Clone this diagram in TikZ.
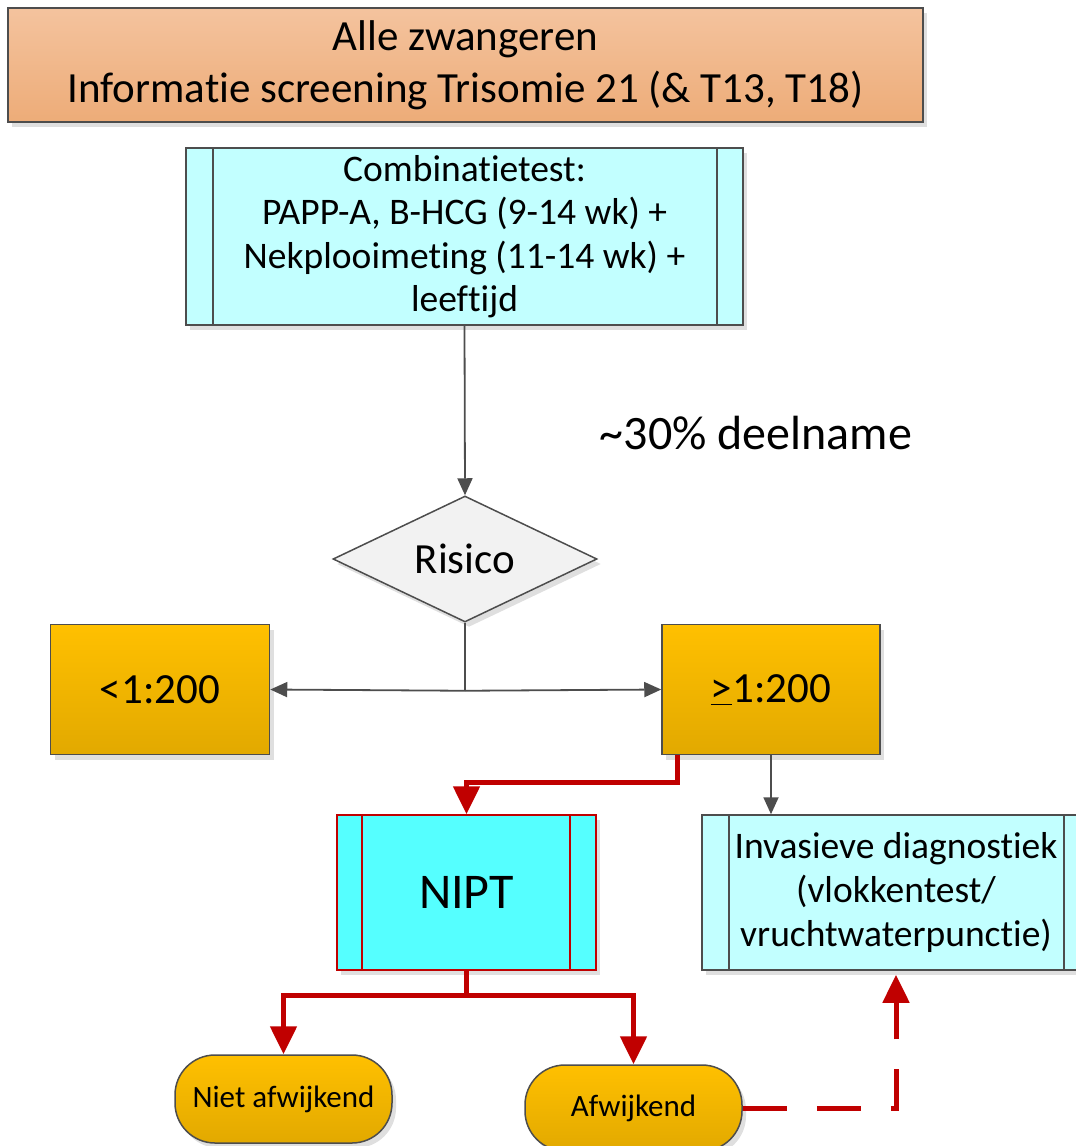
\documentclass[tikz,border=0pt]{standalone}
\usepackage{fontspec}
\setmainfont{Carlito}[Ligatures=NoCommon]
\usetikzlibrary{arrows.meta,shadows,shapes.geometric}

\definecolor{hdrtop}{HTML}{F4C39E}
\definecolor{hdrbot}{HTML}{EDAC78}
\definecolor{goldtop}{HTML}{FFC000}
\definecolor{goldbot}{HTML}{E2A900}
\definecolor{lightcyan}{HTML}{C2FFFF}
\definecolor{niptcyan}{HTML}{55FFFF}
\definecolor{darkred}{HTML}{C00000}
\definecolor{edgegray}{HTML}{4D4D4D}

\tikzset{
  shade/.style={drop shadow={shadow xshift=4pt,shadow yshift=-5pt,opacity=0.25}},
  header/.style={draw=edgegray,line width=1.5pt,shade,top color=hdrtop,bottom color=hdrbot,
    align=center,font=\fontsize{43}{52}\selectfont},
  procbox/.style={draw=edgegray,line width=1.5pt,shade,fill=lightcyan,align=center,
    path picture={
      \draw[edgegray,line width=1.5pt] ([xshift=27pt]path picture bounding box.north west) -- ([xshift=27pt]path picture bounding box.south west);
      \draw[edgegray,line width=1.5pt] ([xshift=-26pt]path picture bounding box.north east) -- ([xshift=-26pt]path picture bounding box.south east);}},
  riskbox/.style={draw=edgegray,line width=1.5pt,shade,top color=goldtop,bottom color=goldbot,
    minimum width=219pt,minimum height=130pt,font=\fontsize{43}{50}\selectfont},
  outcome/.style={draw=edgegray,line width=1.5pt,shade,top color=goldtop,bottom color=goldbot,
    rounded corners=40pt,minimum width=217pt,font=\fontsize{31}{36}\selectfont},
  grayline/.style={edgegray,line width=1.8pt},
  grayarrow/.style={grayline,-{Triangle[length=17pt,width=15pt]}},
  redline/.style={darkred,line width=5pt},
  redarrow/.style={redline,-{Triangle[length=28pt,width=26pt]}},
  reddash/.style={redline,dash pattern=on 44pt off 30pt,-{Triangle[length=28pt,width=26pt]}}
}

\begin{document}
\begin{tikzpicture}[x=1pt,y=-1pt]
    \useasboundingbox (0,0) rectangle (1076,1146);
    % top of the chart
    \node[header,minimum width=915pt,minimum height=114pt] (all) at (465.5,65) {Alle zwangeren\\Informatie screening Trisomie 21 (\& T13, T18)};
    \node[procbox,minimum width=557pt,minimum height=177pt,font=\fontsize{37.5}{43.5}\selectfont] (combi) at (464.5,236.5)
        {Combinatietest:\\PAPP-A, B-HCG (9-14 wk) +\\Nekplooimeting (11-14 wk) +\\leeftijd};
    \node[font=\fontsize{48}{56}\selectfont] (part) at (756,433) {\textasciitilde30\% deelname};
    \node[diamond,draw=edgegray,line width=1.5pt,shade,fill=black!5,minimum width=264pt,minimum height=126pt,
        inner sep=0pt,aspect=2.1,font=\fontsize{43}{50}\selectfont] (risk) at (465,559) {Risico};
    % risk groups
    \node[riskbox] (low) at (160,689.5) {<1:200};
    \node[riskbox,minimum width=218pt] (high) at (771,689.5) {\underline{>}1:200};
    % tests
    \node[procbox,draw=darkred,minimum width=259pt,minimum height=155pt,fill=niptcyan,font=\fontsize{50}{58}\selectfont,
        path picture={
          \draw[darkred,line width=1.5pt] ([xshift=25pt]path picture bounding box.north west) -- ([xshift=25pt]path picture bounding box.south west);
          \draw[darkred,line width=1.5pt] ([xshift=-26pt]path picture bounding box.north east) -- ([xshift=-26pt]path picture bounding box.south east);}]
        (nipt) at (466.5,892.5) {NIPT};
    \node[procbox,minimum width=388pt,minimum height=155pt,font=\fontsize{37.5}{44}\selectfont] (inv) at (896,892.5)
        {Invasieve diagnostiek\\(vlokkentest/\\vruchtwaterpunctie)};
    % results
    \node[outcome,minimum height=88pt] (niet) at (283.5,1099) {Niet afwijkend};
    \node[outcome,minimum height=86pt] (afw) at (633.5,1108) {Afwijkend};

    \draw[grayarrow] (combi.south) -- (risk.north);
    \draw[grayline] (risk.south) -- ++(0,68) coordinate (split);
    \draw[grayarrow] (split) -- (low.east);
    \draw[grayarrow] (split) -- (high.west);
    \draw[grayarrow] (high.south) -- (high.south |- inv.north);
    \draw[redarrow] ([xshift=16pt]high.south west) -- ++(0,27) -| (nipt.north);
    \draw[redline] (nipt.south) -- ++(0,25) coordinate (fork);
    \draw[redarrow] (fork) -| (niet.north);
    \draw[redarrow] (fork) -| (afw.north);
    \draw[reddash,shorten >=4pt] (afw.east) -| (inv.south);
\end{tikzpicture}
\end{document}
